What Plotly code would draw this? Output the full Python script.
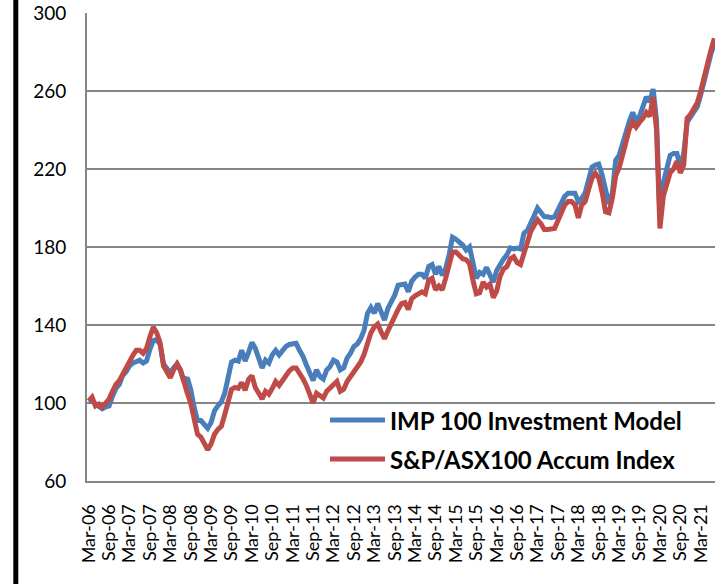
import pandas as pd
import plotly.graph_objects as go

# Monthly categories, Mar-06 onwards
months = pd.date_range("2006-03-01", periods=185, freq="MS").strftime("%b-%y").tolist()

tick_labels = ["Mar-06", "Sep-06", "Mar-07", "Sep-07", "Mar-08", "Sep-08", "Mar-09", "Sep-09",
               "Mar-10", "Sep-10", "Mar-11", "Sep-11", "Mar-12", "Sep-12", "Mar-13", "Sep-13",
               "Mar-14", "Sep-14", "Mar-15", "Sep-15", "Mar-16", "Sep-16", "Mar-17", "Sep-17",
               "Mar-18", "Sep-18", "Mar-19", "Sep-19", "Mar-20", "Sep-20", "Mar-21"]

y_ticks = [60, 100, 140, 180, 220, 260, 300]

imp_model = [
    101, 101, 99.5, 98.5, 97, 98, 98.5, 103.5, 107.5, 109.5,
    114, 116, 119, 120.5, 121.5, 122, 120.5, 121.5, 127.5, 132,
    132.5, 130, 120, 118, 115.5, 118, 120, 116.5, 111, 113,
    107, 98, 91, 91, 89, 87, 90, 96, 98.6, 100.5,
    105, 112, 121, 122, 121.5, 127, 121.5, 126, 131, 128,
    123, 118, 122, 120.5, 124.7, 127, 124.7, 127, 129, 130,
    130.6, 130.6, 127, 124, 119.6, 115.3, 111.5, 117, 113.6, 112.3,
    117, 118.7, 122, 121, 117, 118, 123, 125.5, 129, 130.3,
    133, 137.4, 146, 149, 146, 151, 146, 142.5, 148.5, 152,
    155.3, 160.4, 160.4, 161, 157, 162.5, 164.6, 166, 166, 164,
    170, 171, 166, 170, 165.5, 169, 176, 185, 184, 182.5,
    181, 178.5, 180, 172, 164, 167, 166, 169.5, 166, 162,
    168, 171.5, 173.8, 176, 179.5, 179, 179.5, 179, 187, 188.5,
    193, 196, 200, 198, 195.5, 195.5, 195, 195.5, 199.5, 203.5,
    206, 207.6, 207.6, 207.6, 203.3, 205, 207.6, 214.4, 221, 222,
    222.5, 217, 208.5, 202, 207.6, 224.5, 227, 233.5, 238.5, 244.5,
    249, 245, 247, 251.5, 257, 254.5, 261, 245, 195, 213,
    221, 227, 228, 228, 221, 228, 244, 247, 249.5, 252,
    258, 266, 273, 279, 284,
]

asx100_index = [
    101, 103, 98.5, 99.5, 98, 100.5, 102, 106, 109.5, 111.5,
    115, 117.5, 121, 124.5, 127, 127, 125.5, 128, 134, 139,
    136, 131, 119, 116, 113, 117, 120, 117, 110, 105,
    100, 93, 84, 82.5, 79, 76, 79, 84, 86.5, 88,
    94, 100, 107, 108, 107.5, 110.5, 106.5, 112, 114, 108,
    104.5, 102, 106, 104.5, 107.5, 111, 109, 112, 114, 116.5,
    118, 118, 115.5, 112.5, 109, 104, 100, 105, 103.5, 102.5,
    106, 107.7, 109.5, 111, 106, 107, 111, 113.6, 116, 118.5,
    121, 125, 131, 136, 139, 140.5, 136.5, 133, 137, 141,
    144.5, 148, 151, 151.5, 148, 153.5, 155, 156, 157, 156,
    163, 164, 158, 160, 158, 164, 170, 177.5, 177.5, 176,
    174, 173.5, 171.5, 163, 156, 156.5, 162, 159.5, 161, 154,
    157.5, 165, 168.8, 170, 174, 175, 172, 171, 177, 183,
    188, 191, 194, 192, 189, 189, 189, 189.5, 193.5, 198,
    201.5, 203.3, 203.3, 201.6, 195, 201.6, 203.3, 209.3, 215.2, 217.8,
    215.5, 208, 198, 197.5, 205, 216.5, 220.5, 227, 234, 240.5,
    244, 241.5, 244, 246, 249, 247, 257, 240, 189.5, 206,
    212, 218, 220, 224, 218, 222, 246, 248, 251, 254,
    260, 268, 276, 281, 287,
]

series_names = ["IMP 100 Investment Model", "S&P/ASX100 Accum Index"]
series_colors = ["#4A7EBB", "#BE4B48"]

FONT = "Lato"

fig = go.Figure()
for name, vals, col in zip(series_names, [imp_model, asx100_index], series_colors):
    fig.add_trace(go.Scatter(
        x=months, y=vals, mode="lines", name=name,
        line=dict(color=col, width=5, shape="linear"),
        showlegend=False, hoverinfo="x+y+name",
    ))

# Plot area in page pixels spans x 87..715, y 13..481 (page body margin removed)
W_PLOT = 715 - 87
H_PLOT = 481 - 13
def px_x(px):
    return (px - 87) / W_PLOT
def px_y(py):
    return (481 - py) / H_PLOT

shapes = []
annotations = []
# Manual legend (long line samples as in the reference)
for k, (name, col) in enumerate(zip(series_names, series_colors)):
    yy = [420, 459][k]
    shapes.append(dict(type="line", xref="paper", yref="paper",
                       x0=px_x(330), x1=px_x(385), y0=px_y(yy), y1=px_y(yy),
                       line=dict(color=col, width=5)))
    annotations.append(dict(xref="paper", yref="paper", x=px_x(388), y=px_y(yy),
                            xanchor="left", yanchor="middle", showarrow=False,
                            text="<b>%s</b>" % name,
                            font=dict(family=FONT, size=24, color="#000000")))

# Black bar at left edge of the image
shapes.append(dict(type="rect", xref="paper", yref="paper",
                   x0=px_x(13.3), x1=px_x(18.3), y0=px_y(590), y1=px_y(-5),
                   fillcolor="#000000", line=dict(width=0), layer="above"))

fig.update_layout(
    width=715, height=584, autosize=False,
    margin=dict(l=87, r=0, t=13, b=103, pad=0),
    paper_bgcolor="white", plot_bgcolor="white",
    font=dict(family=FONT, color="#000000"),
    shapes=shapes, annotations=annotations,
    showlegend=False,
)
fig.update_xaxes(
    type="category", range=[-0.5, 184.2], automargin=False,
    tickmode="array", tickvals=tick_labels, ticktext=tick_labels,
    tickangle=-90, tickfont=dict(family=FONT, size=18, color="#000000"),
    showgrid=False, zeroline=False,
    showline=True, linecolor="#868686", linewidth=2,
    ticks="", ticklabelstandoff=14, ticklabeloverflow="allow",
)
fig.update_yaxes(
    range=[60, 300], tickmode="array", tickvals=y_ticks, automargin=False,
    tickfont=dict(family=FONT, size=19, color="#000000"),
    showgrid=True, gridcolor="#868686", gridwidth=2,
    zeroline=False, showline=True, linecolor="#868686", linewidth=2,
    ticks="", ticklabelstandoff=15, ticklabeloverflow="allow",
)

fig.write_html("out.html", config={"displayModeBar": False},
               post_script="document.body.style.margin='0';document.body.style.overflow='hidden';")
